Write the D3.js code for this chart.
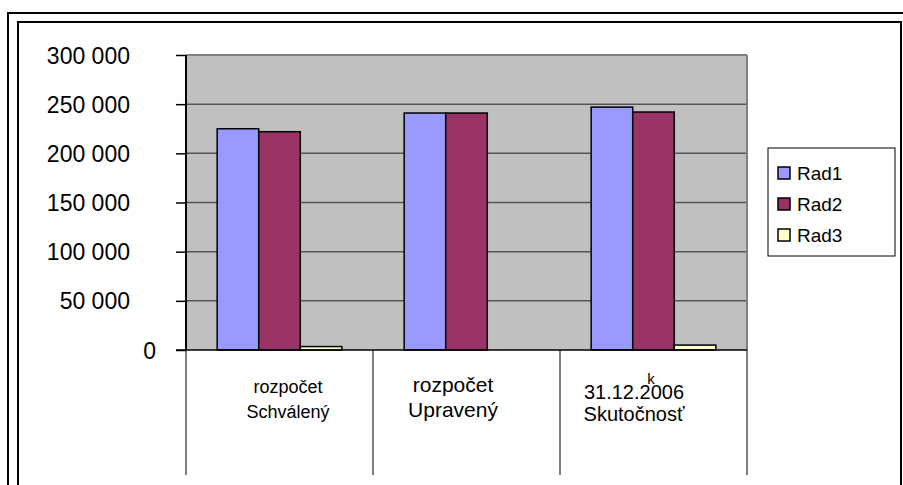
<!DOCTYPE html>
<html><head><meta charset="utf-8">
<script src="https://cdn.jsdelivr.net/npm/d3@7"></script>
<style>body{margin:0;background:#fff}svg{display:block;font-family:"Liberation Sans",Arial,sans-serif}</style>
</head><body><svg id="c" width="903" height="485"></svg>
<script>
const categories = ["rozpočet Schválený", "rozpočet Upravený", "31.12.2006 Skutočnosť"];
const seriesNames = ["Rad1", "Rad2", "Rad3"];
const rad1 = [225000, 241000, 247000];
const rad2 = [222000, 241000, 242000];
const rad3 = [3500, 0, 5000];
const yTicks = [0, 50000, 100000, 150000, 200000, 250000, 300000];
const colors = ["#9999ff", "#993366", "#ffffcc"];

const svg = d3.select("#c");
// frames
svg.append("path").attr("d","M8,490 V13 H910").attr("fill","none").attr("stroke","#000").attr("stroke-width",2);
svg.append("path").attr("d","M18,490 V22 H901 V490").attr("fill","none").attr("stroke","#000").attr("stroke-width",2);

const L=186, R=747, T=55, B=350;
const x = d3.scaleBand().domain(categories).range([L,R]).paddingInner(0).paddingOuter(0);
const y = d3.scaleLinear().domain([0,300000]).range([B,T]);

svg.append("rect").attr("x",L).attr("y",T).attr("width",R-L).attr("height",B-T).attr("fill","#c0c0c0");
// gridlines
svg.append("g").selectAll("line").data(yTicks.filter(d=>d>0)).join("line")
  .attr("x1",L).attr("x2",R).attr("y1",d=>y(d)).attr("y2",d=>y(d))
  .attr("stroke",d=>d===300000?"#808080":"#555").attr("stroke-width",d=>d===300000?2:1.5);
svg.append("line").attr("x1",R).attr("x2",R).attr("y1",T).attr("y2",B).attr("stroke","#808080").attr("stroke-width",2);

// bars
const data = categories.map((c,i)=>({c, vals:[rad1[i],rad2[i],rad3[i]]}));
const bw = x.bandwidth()/4.5;
const g = svg.append("g");
data.forEach(d=>{
  d.vals.forEach((v,j)=>{
    if(v<=0) return;
    g.append("rect").attr("x",x(d.c)+bw*0.75+j*bw).attr("y",y(v)).attr("width",bw).attr("height",B-y(v))
     .attr("fill",colors[j]).attr("stroke","#000").attr("stroke-width",1.5);
  });
});

// y axis
const yAxis = d3.axisLeft(y).tickValues(yTicks).tickSize(10).tickPadding(0)
  .tickFormat(d=>d3.format(",")(d).replace(/,/g," "));
const ya = svg.append("g").attr("transform",`translate(${L},0)`).call(yAxis);
ya.select(".domain").attr("stroke","#000").attr("stroke-width",2).attr("d",`M0,${T}V${B}`);
ya.selectAll(".tick line").attr("stroke","#000").attr("stroke-width",1.5);
ya.selectAll(".tick text").attr("font-size",23).attr("fill","#000").attr("font-family","Liberation Sans, Arial, sans-serif")
  .attr("x",d=>d===0?-30:-56).attr("dy","0.35em");

// x axis line and category table
svg.append("line").attr("x1",176).attr("x2",R).attr("y1",B).attr("y2",B).attr("stroke","#000").attr("stroke-width",1.5);
const edges = categories.map(c=>x(c)).concat([R]);
svg.append("g").selectAll("line").data(edges).join("line")
  .attr("x1",d=>d).attr("x2",d=>d).attr("y1",B).attr("y2",475).attr("stroke","#000").attr("stroke-width",1);

const labelSpecs = [
  {lines:["rozpočet","Schválený"], cx:288, ys:[393,418], size:18, anchor:"middle"},
  {lines:["rozpočet","Upravený"], cx:453, ys:[392,417], size:21, anchor:"middle"},
  {lines:["31.12.2006","Skutočnosť"], cx:634, ys:[399,421], size:20, anchor:"middle"}
];
labelSpecs.forEach((s,i)=>{
  const t = svg.append("text").attr("text-anchor",s.anchor).attr("font-size",s.size).attr("fill","#000");
  s.lines.forEach((ln,k)=>t.append("tspan").attr("x",s.cx).attr("y",s.ys[k]).text(ln));
});
svg.append("text").attr("x",651).attr("y",384).attr("font-size",15).attr("text-anchor","middle").text("k");

// legend
const lg = svg.append("g");
lg.append("rect").attr("x",768).attr("y",148).attr("width",127).attr("height",108).attr("fill","#fff").attr("stroke","#000").attr("stroke-width",1);
seriesNames.forEach((n,i)=>{
  const cy = 173+i*31;
  lg.append("rect").attr("x",778).attr("y",cy-6).attr("width",12).attr("height",12).attr("fill",colors[i]).attr("stroke","#000").attr("stroke-width",1.5);
  lg.append("text").attr("x",797).attr("y",cy).attr("dy","0.35em").attr("font-size",19).text(n);
});
</script></body></html>
